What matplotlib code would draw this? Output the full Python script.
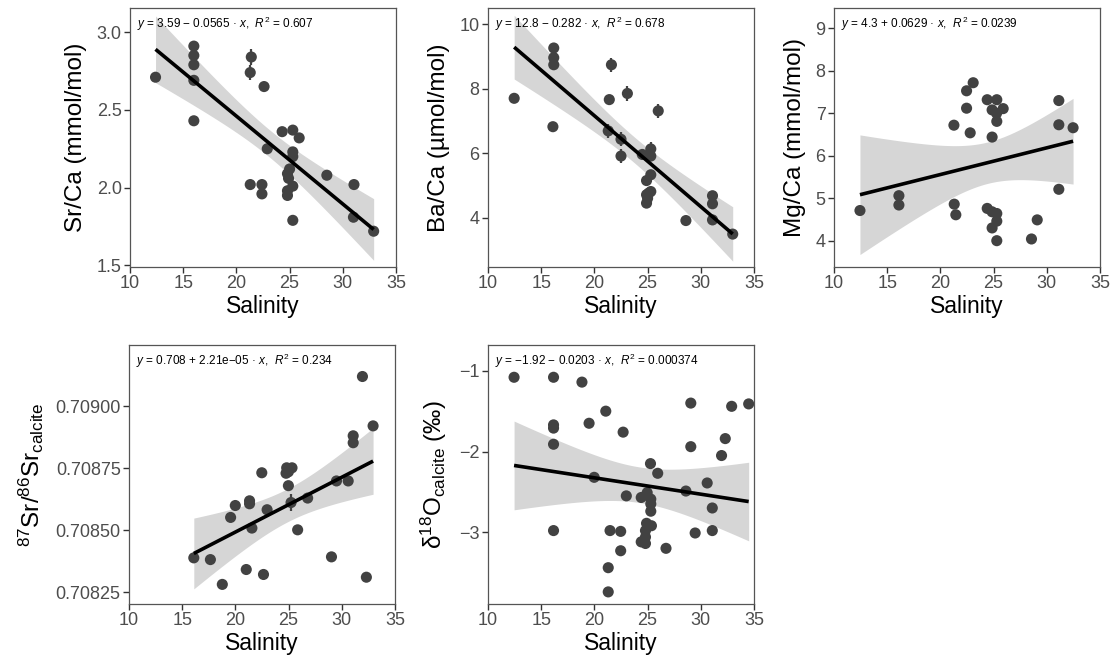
import numpy as np
import matplotlib
matplotlib.use("Agg")
import matplotlib.pyplot as plt
from matplotlib.ticker import FormatStrFormatter

plt.rcParams['font.family'] = ['Liberation Sans', 'DejaVu Sans']
plt.rcParams['mathtext.fontset'] = 'custom'
plt.rcParams['mathtext.rm'] = 'Liberation Sans'
plt.rcParams['mathtext.it'] = 'Liberation Sans:italic'
plt.rcParams['mathtext.bf'] = 'Liberation Sans:bold'

# ---------------- data ----------------
sr_sal = [12.4, 16.0, 16.0, 16.0, 16.0, 16.0, 21.4, 21.3, 22.6, 21.3, 22.4, 22.4,
          22.9, 24.3, 25.3, 25.9, 25.3, 25.3, 25.0, 24.8, 24.9, 25.3, 24.8, 24.8,
          25.3, 28.5, 31.05, 31.0, 32.9]
sr_ca = [2.71, 2.91, 2.85, 2.79, 2.69, 2.43, 2.84, 2.74, 2.65, 2.02, 2.02, 1.96,
         2.25, 2.36, 2.37, 2.32, 2.23, 2.20, 2.12, 2.09, 2.06, 2.01, 1.98, 1.95,
         1.79, 2.08, 2.02, 1.81, 1.72]
sr_err = [0.03, 0, 0, 0, 0, 0, 0.05, 0.05, 0, 0, 0, 0,
          0, 0, 0, 0, 0, 0, 0, 0, 0, 0, 0, 0,
          0, 0, 0, 0, 0]

ba_sal = [12.46, 16.18, 16.18, 16.18, 16.1, 21.6, 21.4, 23.1, 21.3, 22.5, 22.5,
          26.0, 25.3, 25.3, 24.5, 25.3, 24.9, 25.3, 24.9, 25.1, 25.0, 24.9,
          28.6, 31.1, 31.1, 31.1, 33.0]
ba_ca = [7.70, 9.26, 8.96, 8.74, 6.82, 8.74, 7.66, 7.85, 6.69, 6.43, 5.91,
         7.31, 6.13, 5.91, 5.96, 5.33, 5.15, 4.81, 4.71, 4.76, 4.60, 4.45,
         3.91, 4.68, 4.43, 3.93, 3.49]
ba_err = [0.12, 0, 0, 0, 0, 0.22, 0, 0.22, 0.22, 0.22, 0.22,
          0.22, 0.2, 0, 0, 0, 0, 0, 0, 0, 0, 0,
          0, 0, 0, 0.12, 0]

mg_sal = [12.44, 16.1, 16.1, 21.27, 21.3, 21.45, 22.46, 23.08, 22.46, 22.8,
          24.4, 25.3, 24.86, 25.9, 25.28, 25.3, 24.86, 24.4, 24.86, 25.3, 25.3,
          24.86, 25.3, 28.56, 29.1, 31.13, 31.13, 32.47, 31.13]
mg_ca = [4.71, 5.06, 4.84, 6.72, 4.86, 4.61, 7.53, 7.72, 7.12, 6.54,
         7.32, 7.32, 7.08, 7.11, 7.00, 6.81, 6.44, 4.76, 4.68, 4.64, 4.46,
         4.30, 4.00, 4.04, 4.49, 7.30, 6.73, 6.66, 5.21]

srsr_sal = [16.09, 17.65, 18.77, 19.55, 19.99, 21.02, 21.33, 21.33, 21.55, 22.48,
            22.64, 22.98, 24.82, 25.32, 24.98, 24.76, 24.98, 25.23, 25.85, 26.79,
            29.03, 29.5, 30.6, 31.07, 31.07, 31.94, 32.94, 32.31]
srsr = [0.708388, 0.708381, 0.708281, 0.708551, 0.708599, 0.708341, 0.708618,
        0.708606, 0.708508, 0.708731, 0.708321, 0.708582, 0.708751, 0.708751,
        0.708735, 0.708729, 0.708679, 0.708611, 0.708501, 0.708629, 0.708392,
        0.708698, 0.708698, 0.708880, 0.708852, 0.709119, 0.708920, 0.708310]
srsr_err = [0, 0, 0, 0, 0, 0, 0, 0, 0, 0, 0, 0, 0, 0, 0, 0, 0, 0.000035, 0, 0,
            0, 0, 0, 0, 0, 0, 0, 0]

d18o_sal = [12.45, 16.16, 18.83, 29.06, 32.9, 34.5, 21.07, 19.5, 16.16, 16.16,
            22.7, 32.3, 29.06, 16.16, 31.95, 25.27, 25.95, 19.98, 30.6, 28.6,
            23.0, 24.4, 24.96, 25.3, 25.3, 25.3, 31.08, 24.9, 25.36, 24.8,
            16.16, 21.47, 22.47, 29.47, 31.08, 24.8, 24.4, 24.8, 22.47, 26.73,
            21.3, 21.3]
d18o = [-1.08, -1.08, -1.14, -1.40, -1.44, -1.41, -1.50, -1.65, -1.67, -1.71,
        -1.76, -1.84, -1.94, -1.91, -2.05, -2.15, -2.27, -2.32, -2.39, -2.49,
        -2.55, -2.57, -2.51, -2.59, -2.65, -2.74, -2.70, -2.89, -2.92, -2.98,
        -2.98, -2.98, -2.99, -3.01, -2.98, -3.06, -3.12, -3.14, -3.23, -3.20,
        -3.44, -3.74]

# fitted model for each panel (full precision; labels show the rounded values)
fit_intercept = [3.59, 12.8, 4.3, 0.70805, -1.92]
fit_slope = [-0.0565, -0.282, 0.0629, 2.21e-05, -0.0203]
fit_r2 = ["0.607", "0.678", "0.0239", "0.234", "0.000374"]
fit_int_txt = ["3.59", "12.8", "4.3", "0.708", "\u22121.92"]
fit_slope_txt = ["\u2212 0.0565", "\u2212 0.282", "+ 0.0629", "+ 2.21e\u221205", "\u2212 0.0203"]

y_labels = ["Sr/Ca (mmol/mol)", "Ba/Ca (\u00b5mol/mol)", "Mg/Ca (mmol/mol)",
            r"$^{87}$Sr/$^{86}$Sr$_{\mathrm{calcite}}$",
            "\u03b4" + r"$^{18}$O$_{\mathrm{calcite}}$" + " (\u2030)"]
x_label = "Salinity"
x_ticks = [10, 15, 20, 25, 30, 35]
y_ticks = [[1.5, 2.0, 2.5, 3.0], [4, 6, 8, 10], [4, 5, 6, 7, 8, 9],
           [0.70825, 0.70850, 0.70875, 0.70900], [-3, -2, -1]]
y_fmt = ["%.1f", "%d", "%d", "%.5f", "%d"]
y_lims = [(1.49, 3.155), (2.47, 10.5), (3.38, 9.48), (0.708202, 0.709246), (-3.89, -0.68)]

panels = [
    (sr_sal, sr_ca, sr_err),
    (ba_sal, ba_ca, ba_err),
    (mg_sal, mg_ca, None),
    (srsr_sal, srsr, srsr_err),
    (d18o_sal, d18o, None),
]


def t975(df):
    # Cornish-Fisher expansion of the Student-t 97.5% quantile
    z = 1.959964
    return (z + (z**3 + z) / (4 * df) + (5 * z**5 + 16 * z**3 + 3 * z) / (96 * df**2)
            + (3 * z**7 + 19 * z**5 + 17 * z**3 - 15 * z) / (384 * df**3))


# ---------------- layout ----------------
W, H = 1118, 664
fig = plt.figure(figsize=(W / 100, H / 100), dpi=100)
boxes = [(130, 8), (488, 8), (834, 8), (129, 345), (488, 345)]
aw, ah = 266, 259

pt_color = "#424242"
tick_color = "#4D4D4D"

for i, ((xs, ys, err), (bx, by)) in enumerate(zip(panels, boxes)):
    ax = fig.add_axes([bx / W, 1 - (by + ah) / H, aw / W, ah / H])
    x = np.asarray(xs, float)
    y = np.asarray(ys, float)
    b0, b1 = fit_intercept[i], fit_slope[i]

    # 95% confidence band around the fitted line
    n = len(x)
    resid = y - (b0 + b1 * x)
    s = np.sqrt(np.sum(resid ** 2) / (n - 2))
    xbar = x.mean()
    sxx = np.sum((x - xbar) ** 2)
    xg = np.linspace(x.min(), x.max(), 120)
    yg = b0 + b1 * xg
    half = t975(n - 2) * s * np.sqrt(1 / n + (xg - xbar) ** 2 / sxx)
    ax.fill_between(xg, yg - half, yg + half, color="#D6D6D6", lw=0, zorder=1)

    if err is not None:
        e = np.asarray(err, float)
        m = e > 0
        ax.errorbar(x[m], y[m], yerr=e[m], fmt="none", ecolor=pt_color,
                    elinewidth=1.6, capsize=0, zorder=2)
    ax.scatter(x, y, s=64, color=pt_color, edgecolors="none", zorder=3)
    ax.plot(xg, yg, color="black", lw=2.6, zorder=4, solid_capstyle="butt")

    ax.set_xlim(10, 35)
    ax.set_ylim(*y_lims[i])
    ax.set_xticks(x_ticks)
    ax.set_yticks(y_ticks[i])
    ax.yaxis.set_major_formatter(FormatStrFormatter(y_fmt[i]))
    if i == 4:
        ax.set_yticklabels(["\u22123", "\u22122", "\u22121"])
    ax.tick_params(direction="out", length=4, width=1.0, color="#333333",
                   labelsize=13, labelcolor=tick_color, pad=2)
    for sp in ax.spines.values():
        sp.set_color("#555555")
        sp.set_linewidth(0.9)
    ax.set_xlabel(x_label, fontsize=16.5, labelpad=2)
    ax.set_ylabel(y_labels[i], fontsize=17.5, labelpad=7)

    eq = (f"$y$ = {fit_int_txt[i]} {fit_slope_txt[i]} \u00b7 $x$,  "
          f"$R^2$ = {fit_r2[i]}")
    ax.text(0.025, 0.975, eq, transform=ax.transAxes, ha="left", va="top",
            fontsize=8.5, color="black", zorder=5)

fig.savefig("out.png", dpi=100)
